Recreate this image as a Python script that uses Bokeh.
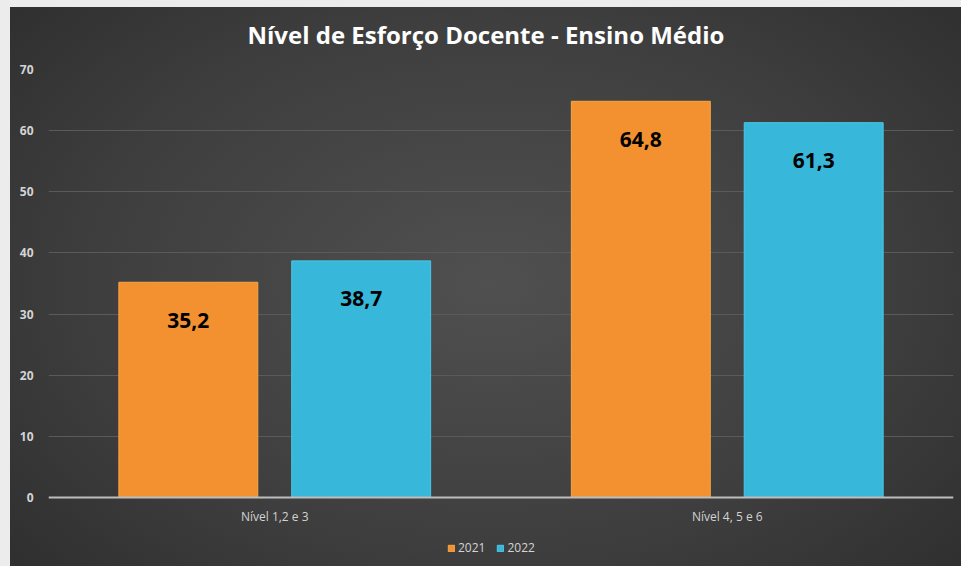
from bokeh.plotting import figure
from bokeh.models import (ColumnDataSource, FactorRange, Legend, LegendItem, Range1d,
                          FixedTicker, Span)
from bokeh.transform import dodge
from bokeh.core.properties import value
from bokeh.embed import file_html
from bokeh.resources import INLINE

categories = ["Nível 1,2 e 3", "Nível 4, 5 e 6"]
series = ["2021", "2022"]
values_2021 = [35.2, 64.8]
values_2022 = [38.7, 61.3]
y_ticks = [0, 10, 20, 30, 40, 50, 60, 70]
title_text = "Nível de Esforço Docente - Ensino Médio"

def fmt(v):
    return f"{v:.1f}".replace(".", ",")

src = ColumnDataSource(dict(
    cat=categories,
    v21=values_2021,
    v22=values_2022,
    t21=[fmt(v) for v in values_2021],
    t22=[fmt(v) for v in values_2022],
))

FONT = "Open Sans"

# frame runs to the bottom edge; the value axis keeps 0..70 over 428 px
Y_MAX = 70
Y_MIN = -Y_MAX * 69 / 428

p = figure(x_range=FactorRange(*categories, range_padding=0),
           y_range=Range1d(Y_MIN, Y_MAX),
           width=961, height=566,
           output_backend="svg", toolbar_location=None,
           min_border_left=48, min_border_right=8,
           min_border_top=69, min_border_bottom=0)

p.border_fill_color = None
p.background_fill_color = None
p.outline_line_color = None
p.styles = {"background": (
    "linear-gradient(#ececec,#ececec) top left / 100% 7px no-repeat, "
    "linear-gradient(#ececec,#ececec) top left / 10px 100% no-repeat, "
    "radial-gradient(ellipse 75% 85% at 51% 50%, #505050 0%, #3e3e3e 55%, #2a2a2a 100%)")}

orange = "#F39130"
blue = "#37B7DA"
bw = 0.307
off = 0.191

r1 = p.vbar(x=dodge("cat", -off, range=p.x_range), top="v21", bottom=0, width=bw, source=src,
            fill_color=orange, line_color="#F9A743", line_width=1)
r2 = p.vbar(x=dodge("cat", off, range=p.x_range), top="v22", bottom=0, width=bw, source=src,
            fill_color=blue, line_color="#4CCAEA", line_width=1)

p.text(x=dodge("cat", -off, range=p.x_range), y="v21", text="t21", source=src,
       text_align="center", text_baseline="middle", y_offset=38,
       text_font=value(FONT), text_font_style="bold", text_font_size="21px", text_color="black")
p.text(x=dodge("cat", off, range=p.x_range), y="v22", text="t22", source=src,
       text_align="center", text_baseline="middle", y_offset=38,
       text_font=value(FONT), text_font_style="bold", text_font_size="21px", text_color="black")

# category labels under the baseline
p.text(x="cat", y=0, text="cat", source=src, text_align="center", text_baseline="middle",
       y_offset=19, text_font=value(FONT), text_font_size="12px", text_color="#d2d2d2")

# baseline
p.add_layout(Span(location=0, dimension="width", line_color="#bdbdbd", line_width=2))

# axes
p.xaxis.visible = False
p.yaxis.ticker = FixedTicker(ticks=y_ticks)
p.yaxis.axis_line_color = None
p.yaxis.major_tick_line_color = None
p.yaxis.minor_tick_line_color = None
p.yaxis.major_label_text_color = "#d4d4d4"
p.yaxis.major_label_text_font = FONT
p.yaxis.major_label_text_font_style = "bold"
p.yaxis.major_label_text_font_size = "12px"
p.yaxis.major_label_standoff = 9

p.xgrid.grid_line_color = None
p.ygrid.ticker = FixedTicker(ticks=y_ticks)
p.ygrid.grid_line_color = "#5a5a5a"
p.ygrid.grid_line_width = 1

# title
p.title.text = title_text
p.title.align = "left"
p.title.offset = 199
p.title.standoff = 33
p.title.vertical_align = "top"
p.title.text_font = FONT
p.title.text_font_style = "bold"
p.title.text_font_size = "24px"
p.title.text_color = "white"

legend = Legend(items=[LegendItem(label=series[0], renderers=[r1]),
                       LegendItem(label=series[1], renderers=[r2])],
                orientation="horizontal", location=(399, 10),
                background_fill_alpha=0, border_line_color=None,
                glyph_width=8, glyph_height=8, label_standoff=3, spacing=11,
                padding=2, margin=0,
                label_text_color="#d4d4d4", label_text_font=FONT,
                label_text_font_size="12px")
p.add_layout(legend, "center")

open("out.html", "w").write(file_html(p, INLINE))
